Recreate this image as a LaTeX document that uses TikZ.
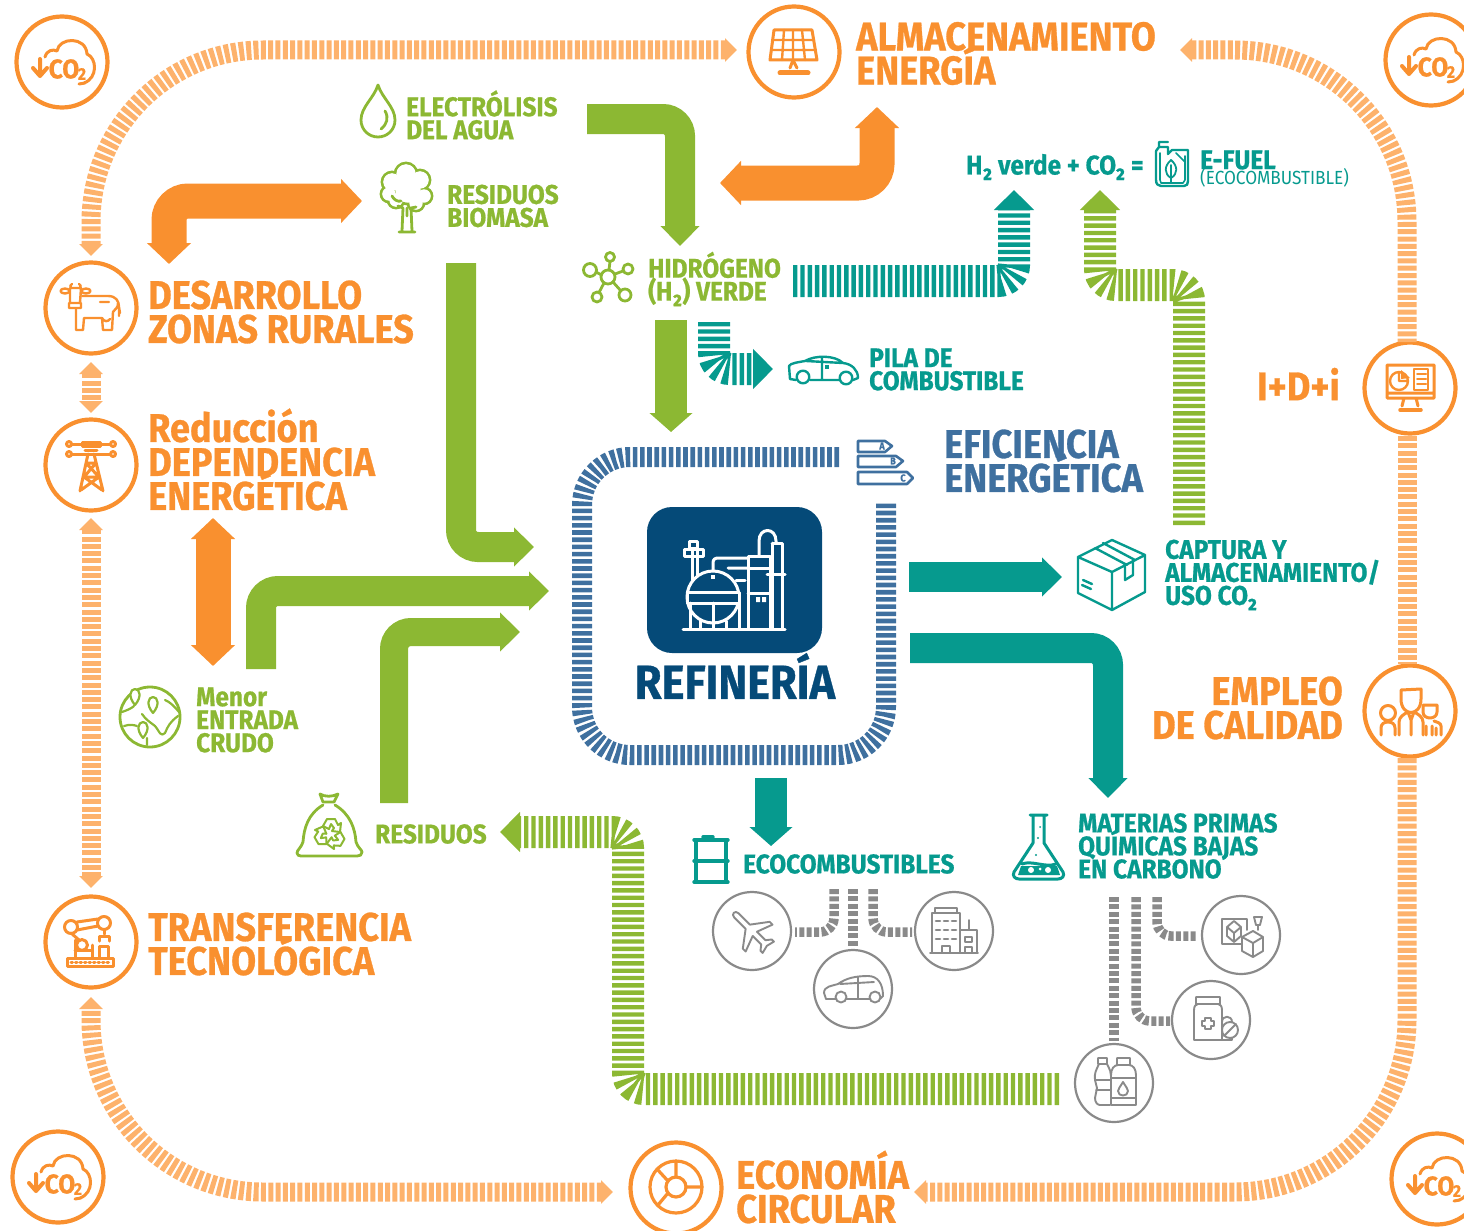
\documentclass[tikz,border=0pt]{standalone}
\usepackage{fontspec}
\setmainfont{Fira Sans}
\newfontfamily\cf[FakeStretch=0.905,BoldFeatures={FakeBold=0.7}]{Fira Sans}
\usetikzlibrary{arrows.meta}
\definecolor{org}{HTML}{F9902F}
\definecolor{pale}{HTML}{FDB26C}
\definecolor{grn}{HTML}{8CB833}
\definecolor{teal1}{HTML}{069A8E}
\definecolor{blu}{HTML}{3F709F}
\definecolor{navy}{HTML}{054A78}
\definecolor{gry}{HTML}{8A8A8A}
\newcommand{\fs}[2]{\fontsize{#1}{#2}\selectfont\lineskiplimit=-100pt\relax}
\tikzset{
 ring/.style={circle,draw=org,line width=4.2pt,minimum size=91pt,inner sep=0pt,fill=white},
 gring/.style={circle,draw=gry,line width=2.2pt,minimum size=78pt,inner sep=0pt,fill=white},
 lab/.style={inner sep=0pt,align=left,anchor=west,font=\cf\bfseries},
 big/.style={lab,text=org,font=\cf\bfseries\fs{40}{34}},
 gsm/.style={lab,text=grn,font=\cf\bfseries\fs{27}{23}},
 tsm/.style={lab,text=teal1,font=\cf\bfseries\fs{27}{23}},
 outerband/.style={draw=pale,line width=19pt,dash pattern=on 5pt off 2.3pt,rounded corners=172pt},
 paleboth/.style={outerband,{Triangle[width=23pt,length=12pt]}-{Triangle[width=23pt,length=12pt]}},
 stripe/.style={line width=32pt,dash pattern=on 4.4pt off 2.9pt,rounded corners=16pt,-{Triangle[width=39pt,length=20pt]}},
 solid1/.style={line width=30pt,rounded corners=17pt,-{Triangle[width=38pt,length=20pt]}},
 solid2/.style={line width=35pt,rounded corners=19pt,{Triangle[width=43pt,length=21pt]}-{Triangle[width=43pt,length=21pt]}},
 frameband/.style={draw=blu,line width=20pt,dash pattern=on 4.6pt off 2.6pt,rounded corners=48pt},
 gband/.style={draw=gry,line width=9.5pt,dash pattern=on 5pt off 2.4pt,rounded corners=14pt},
 oi/.style={draw=org,line width=3pt,line cap=round,line join=round},
 gi/.style={draw=grn,line width=2.8pt,line cap=round,line join=round},
 ti/.style={draw=teal1,line width=2.4pt,line cap=round,line join=round},
 bi/.style={draw=blu,line width=2.6pt,line cap=round,line join=round},
 ni/.style={draw=gry,line width=1.9pt,line cap=round,line join=round},
 wi/.style={draw=white,line width=3pt,line cap=round,line join=round},
 cotwo/.pic={
  \draw[oi] (-17,-5) .. controls (-15,-12) and (-9,-13) .. (-5,-11) .. controls (-3,-25) and (24,-26) .. (25,-8) .. controls (35,-4) and (36,16) .. (22,21) (17,22) -- (23,21);
  \draw[oi,line width=4pt] (-22,-3) -- (-22,12) (-29,6) -- (-22,14) -- (-15,6);
  \node[inner sep=0pt,text=org,font=\cf\bfseries\fs{27}{27}] at (2,7) {CO};
  \node[inner sep=0pt,text=org,font=\cf\bfseries\fs{17}{17}] at (20,12) {2};
 }
}
\begin{document}
\begin{tikzpicture}[x=1pt,y=-1pt]
\useasboundingbox (0,0) rectangle (1464,1231);
% ---------- named rings
\node[ring] (co2a) at (62,62) {};
\node[ring] (co2b) at (1431,60) {};
\node[ring] (co2c) at (58,1177) {};
\node[ring] (co2d) at (1437,1179) {};
\node[ring] (alm) at (794,52) {};
\node[ring] (eco) at (676,1188) {};
\node[ring] (des) at (91,308) {};
\node[ring] (red) at (91,465) {};
\node[ring] (tra) at (91,942) {};
\node[ring] (idi) at (1410,388) {};
\node[ring] (emp) at (1410,711) {};
\pic at (co2a) {cotwo};
\pic at (co2b) {cotwo};
\pic at (co2c) {cotwo};
\pic at (co2d) {cotwo};
% ---------- outer bands
\coordinate (t1) at (737,50);
\coordinate (t1c) at (91,50);
\coordinate (t2) at (91,256);
\coordinate (t3) at (1180,50);
\coordinate (t3c) at (1407,50);
\coordinate (b1) at (613,1192);
\coordinate (b1c) at (91,1192);
\coordinate (b2) at (91,997);
\coordinate (b3) at (914,1192);
\coordinate (b3c) at (1407,1192);
\draw[paleboth] (t1) -- (t1c) -- (t2);
\draw[outerband,{Triangle[width=23pt,length=12pt]}-] (t3) -- (t3c) -- (1407,342);
\draw[outerband] (1407,436) -- (1407,664);
\draw[outerband,-{Triangle[width=23pt,length=12pt]}] (1407,758) -- (b3c) -- (b3);
\draw[paleboth] (b1) -- (b1c) -- (b2);
\coordinate (l1) at (91,362); \coordinate (l2) at (91,413);
\draw[paleboth] (l1) -- (l2);
\coordinate (l3) at (91,518); \coordinate (l4) at (91,888);
\draw[paleboth] (l3) -- (l4);
% ---------- solid arrows
\coordinate (oa1) at (362,201); \coordinate (oa1c) at (169,201); \coordinate (oa2) at (169,264);
\draw[solid2,draw=org] (oa1) -- (oa1c) -- (oa2);
\coordinate (ob1) at (720,183); \coordinate (ob1c) at (877,183); \coordinate (ob2) at (877,107);
\draw[solid2,draw=org] (ob1) -- (ob1c) -- (ob2);
\coordinate (oc1) at (213,518); \coordinate (oc2) at (213,666);
\draw[solid2,draw=org] (oc1) -- (oc2);
\coordinate (g1) at (587,119); \coordinate (g1c) at (680,119); \coordinate (g1e) at (680,246);
\draw[solid1,draw=grn] (g1) -- (g1c) -- (g1e);
\coordinate (g2) at (461,263); \coordinate (g2c) at (461,547); \coordinate (g2e) at (534,547);
\draw[solid1,draw=grn] (g2) -- (g2c) -- (g2e);
\coordinate (g3) at (261,669); \coordinate (g3c) at (261,591); \coordinate (g3e) at (549,591);
\draw[solid1,draw=grn] (g3) -- (g3c) -- (g3e);
\coordinate (g4) at (394,803); \coordinate (g4c) at (394,632); \coordinate (g4e) at (520,632);
\draw[solid1,line width=28pt,draw=grn] (g4) -- (g4c) -- (g4e);
\coordinate (g5) at (671,320); \coordinate (g5e) at (671,432);
\draw[solid1,line width=32pt,draw=grn,-{Triangle[width=42pt,length=19pt]}] (g5) -- (g5e);
\coordinate (t5) at (909,577); \coordinate (t5e) at (1062,577);
\draw[solid1,draw=teal1] (t5) -- (t5e);
\coordinate (t6) at (910,648); \coordinate (t6c) at (1108,648); \coordinate (t6e) at (1108,798);
\draw[solid1,draw=teal1] (t6) -- (t6c) -- (t6e);
\coordinate (t7) at (771,778); \coordinate (t7e) at (771,846);
\draw[solid1,line width=32pt,draw=teal1,-{Triangle[width=42pt,length=19pt]}] (t7) -- (t7e);
% ---------- striped arrows
\coordinate (s1) at (793,281); \coordinate (s1c) at (1014,281); \coordinate (s1e) at (1014,190);
\draw[stripe,draw=teal1] (s1) -- (s1c) -- (s1e);
\coordinate (s2) at (1189,525); \coordinate (s2c) at (1189,285); \coordinate (s2d) at (1100,285); \coordinate (s2e) at (1100,190);
\draw[stripe,draw=grn] (s2) -- (s2c) -- (s2d) -- (s2e);
\coordinate (s3) at (714,322); \coordinate (s3c) at (714,369); \coordinate (s3e) at (773,369);
\draw[stripe,draw=teal1] (s3) -- (s3c) -- (s3e);
\coordinate (s4) at (1059,1089); \coordinate (s4c) at (628,1089); \coordinate (s4d) at (628,832); \coordinate (s4e) at (500,832);
\draw[stripe,draw=grn] (s4) -- (s4c) -- (s4d) -- (s4e);
% ---------- refinery frame
\coordinate (f1) at (839,457); \coordinate (f2) at (582,457); \coordinate (f3) at (582,755); \coordinate (f4) at (886,755); \coordinate (f5) at (886,503);
\draw[frameband] (f1) -- (f2) -- (f3) -- (f4) -- (f5);
\node[fill=navy,rounded corners=25pt,minimum width=175pt,minimum height=146pt,inner sep=0pt] (ref) at (734.5,580) {};
% refinery icon
\draw[wi] (683,629) -- (785,629);
\draw[wi] (713,597) circle[radius=26];
\draw[wi,fill=navy] (687,592) rectangle (739,603);
\draw[wi] (690,603) -- (690,629) (700,620) -- (700,629) (713,603) -- (713,629) (726,621) -- (726,629) (739,603) -- (739,629);
\fill[white] (711,575) rectangle (715,579);
\draw[wi] (692,580) -- (692,548) -- (697,548) -- (697,575) (689,541) -- (697,541) -- (697,548) -- (689,548) -- cycle (684,549) rectangle (703,556);
\draw[wi] (713,570) -- (713,563) .. controls (713,559) and (715,558) .. (719,558) -- (748,558) (728,568) -- (748,568);
\draw[wi] (748,629) -- (748,556) -- (770,556) -- (770,629) (748,568) -- (770,568) (748,593) -- (770,593) (736,580) -- (745,580);
\draw[wi] (759,556) -- (759,541) .. controls (759,527) and (776,527) .. (776,541) -- (776,543);
\draw[wi] (772,543) -- (782,543) -- (782,629) (772,543) -- (772,629) (767,574) -- (785,574);
\fill[white] (756,597) rectangle (760,602) (762,597) rectangle (766,602);
\node[inner sep=0pt,text=navy,font=\cf\bfseries\fs{48}{48}] (reft) at (735,676) {REFINERÍA};
% ---------- grey branches
\coordinate (e0) at (853,889); \coordinate (e1) at (853,948);
\draw[gband] (e0) -- (e1);
\coordinate (e2) at (834,889); \coordinate (e2c) at (834,932); \coordinate (e2e) at (795,932);
\draw[gband] (e2) -- (e2c) -- (e2e);
\coordinate (e3) at (873,889); \coordinate (e3c) at (873,932); \coordinate (e3e) at (912,932);
\draw[gband] (e3) -- (e3c) -- (e3e);
\coordinate (m0) at (1114,897); \coordinate (m1) at (1114,1041);
\draw[gband] (m0) -- (m1);
\coordinate (m2) at (1136,897); \coordinate (m2c) at (1136,1021); \coordinate (m2e) at (1170,1021);
\draw[gband] (m2) -- (m2c) -- (m2e);
\coordinate (m3) at (1157,897); \coordinate (m3c) at (1157,936); \coordinate (m3e) at (1198,936);
\draw[gband] (m3) -- (m3c) -- (m3e);
\node[gring] (c1) at (752,931) {};
\node[gring] (c2) at (853,989) {};
\node[gring] (c3) at (954,931) {};
\node[gring] (c4) at (1241,935) {};
\node[gring] (c5) at (1211,1020) {};
\node[gring] (c6) at (1114,1083) {};
% plane
\begin{scope}[shift={(752,931)},rotate=45]
\draw[ni] (-3,-22) .. controls (-3,-27) and (3,-27) .. (3,-22) -- (3,-6) -- (19,6) -- (19,10) -- (3,4) -- (3,16) -- (8,20) -- (8,23) -- (0,21) -- (-8,23) -- (-8,20) -- (-3,16) -- (-3,4) -- (-19,10) -- (-19,6) -- (-3,-6) -- cycle;
\end{scope}
% car grey
\draw[ni] (824,993) .. controls (824,986) and (832,986) .. (838,984) .. controls (846,978) and (856,976) .. (868,976) .. controls (878,976) and (883,984) .. (883,996) -- (880,999) (870,999) -- (846,999) (836,999) -- (826,999) -- (824,993) (840,984) -- (874,982) (858,977) -- (858,998);
\draw[ni] (841,997) circle[radius=5.5] (875,997) circle[radius=5.5];
% building
\draw[ni] (932,953) -- (932,913) -- (960,913) -- (960,953) (935,913) -- (935,908) -- (957,908) -- (957,913) (930,953) -- (978,953) (960,930) -- (977,930) -- (977,953);
\draw[ni,line width=2.6pt,dash pattern=on 4pt off 4pt] (936,921) -- (957,921) (936,930) -- (957,930) (936,939) -- (957,939);
\draw[ni] (942,953) -- (942,946) -- (950,946) -- (950,953) (965,937) rectangle (972,942) (965,947) -- (965,953) -- (972,953) -- (972,947) -- cycle (969,930) -- (969,920);
% cube icon
\draw[ni] (1241,944) -- (1222,944) -- (1222,919) -- (1247,919) -- (1247,930);
\draw[ni] (1234,921) -- (1241,927) -- (1241,936) -- (1234,942) -- (1227,936) -- (1227,927) -- cycle (1227,927) -- (1234,933) -- (1241,927) (1234,933) -- (1234,942);
\draw[ni] (1253,931) -- (1263,937) -- (1263,951) -- (1253,957) -- (1242,951) -- (1242,937) -- cycle (1242,937) -- (1253,943) -- (1263,937) (1253,943) -- (1253,957);
\draw[ni] (1254,917) -- (1262,917) -- (1260,925) -- (1256,925) -- cycle (1258,925) -- (1258,930);
% medicine
\draw[ni] (1196,1004) rectangle (1220,997) (1194,1040) -- (1194,1010) .. controls (1194,1006) and (1196,1004) .. (1198,1004) -- (1218,1004) .. controls (1220,1004) and (1222,1006) .. (1222,1010) -- (1222,1040) -- cycle;
\draw[ni] (1205,1018) -- (1211,1018) -- (1211,1021) -- (1214,1021) -- (1214,1026) -- (1211,1026) -- (1211,1029) -- (1205,1029) -- (1205,1026) -- (1202,1026) -- (1202,1021) -- (1205,1021) -- cycle;
\draw[ni,fill=white] (1222,1040) -- (1222,1022) .. controls (1222,1015) and (1232,1015) .. (1232,1022) -- (1232,1040) -- cycle;
\draw[ni,fill=white] (1230,1030) circle[radius=8];
\draw[ni] (1224,1036) -- (1236,1024);
% bottles
\draw[ni] (1098,1058) rectangle (1107,1064) (1099,1064) .. controls (1096,1070) and (1094,1074) .. (1095,1080) -- (1097,1088) -- (1095,1098) .. controls (1095,1103) and (1098,1105) .. (1100,1105) -- (1110,1105) (1107,1064) .. controls (1110,1070) and (1111,1072) .. (1111,1076) (1095,1080) -- (1111,1080) (1096,1090) -- (1111,1090);
\draw[ni,fill=white] (1117,1058) rectangle (1130,1065) (1111,1105) -- (1111,1075) .. controls (1111,1069) and (1114,1065) .. (1118,1065) -- (1129,1065) .. controls (1133,1065) and (1136,1069) .. (1136,1075) -- (1136,1105) -- cycle (1111,1078) -- (1136,1078) (1111,1098) -- (1136,1098);
\draw[ni] (1123,1082) .. controls (1120,1087) and (1118,1089) .. (1118,1091) .. controls (1118,1097) and (1128,1097) .. (1128,1091) .. controls (1128,1089) and (1126,1087) .. (1123,1082) -- cycle;
% ---------- orange icons
% cow
\draw[oi,line width=2.4pt] (65,291) ellipse[x radius=4.5,y radius=2.5] (86,291) ellipse[x radius=4.5,y radius=2.5] (71,288) .. controls (70,286) and (70,285) .. (72,284) (80,288) .. controls (81,286) and (81,285) .. (79,284);
\draw[oi,line width=2.4pt] (70,288) -- (81,288) -- (80,303) -- (70,303) -- cycle (69,303) rectangle (81,308);
\draw[oi,line width=2.4pt] (82,296) -- (108,296) .. controls (116,296) and (119,301) .. (119,307) -- (120,313) (119,306) -- (119,316) (76,309) -- (76,330) -- (83,330) -- (84,318) -- (102,318) -- (103,330) -- (112,330) -- (113,312) .. controls (116,308) and (118,308) .. (118,303) (83,330) -- (84,318) (102,318) .. controls (104,322) and (108,322) .. (110,319) (100,302) -- (109,302);
% tower
\draw[oi] (72,444) -- (110,444) (72,454) -- (110,454) (82,442) rectangle (100,446) (85,450) -- (97,450);
\draw[oi,fill=white] (69,444) circle[radius=2.5] (113,444) circle[radius=2.5] (69,454) circle[radius=2.5] (113,454) circle[radius=2.5];
\draw[oi] (88,454) -- (80,491) (94,454) -- (103,491) (87,463) -- (96,463) -- (84,477) -- (99,477) -- (86,463) (84,477) -- (102,490) (99,477) -- (81,490);
% robot
\draw[oi] (67,958) rectangle (113,966);
\draw[oi,dash pattern=on 1.5pt off 3pt] (71,962) -- (109,962);
\draw[oi] (75,958) -- (75,940) (92,958) -- (92,945) (75,950) -- (92,950) (99,958) -- (99,946) -- (108,946) -- (108,958);
\draw[oi,fill=white] (82,945) circle[radius=5.5] (71,927) circle[radius=6.5] (104,923) circle[radius=6.5];
\draw[oi] (77,922) -- (98,919) (77,930) -- (98,926) (71,933) -- (79,940);
\draw[oi] (104,930) -- (104,934) (99,941) -- (99,936) -- (109,936) -- (109,941);
% chart
\draw[oi,line width=3.2pt] (676,1187) circle[radius=26] (676,1187) circle[radius=10];
\draw[oi,line width=3.2pt] (676,1177) -- (676,1161) (686,1187) -- (702,1187) (668,1193) -- (658,1205) (668,1181) -- (657,1169);
% solar
\draw[oi] (774,30) -- (812,30) -- (817,60) -- (770,60) -- cycle;
\draw[oi,line width=2.4pt] (772,40) -- (814,40) (771,50) -- (816,50) (784,30) -- (782,60) (793,30) -- (793,60) (802,30) -- (805,60);
\draw[oi] (793,60) -- (790,68) (793,60) -- (797,68);
\draw[oi,line width=5pt] (780,73) -- (808,73);
% monitor
\draw[oi] (1387,365) rectangle (1434,398) (1387,393) -- (1434,393) (1404,398) -- (1402,406) (1416,398) -- (1418,406);
\draw[oi,line width=3.5pt] (1400,410) -- (1421,410);
\draw[oi,line width=2.4pt] (1399,381) circle[radius=9] (1399,381) -- (1399,372) (1399,381) -- (1408,381);
\fill[org] (1401,370) -- (1410,378) -- (1401,379) -- cycle;
\draw[oi,line width=2pt] (1414,369) rectangle (1428,390) (1417,374) -- (1426,374) (1417,379) -- (1426,379) (1417,384) -- (1426,384);
% people
\draw[oi] (1401,699) -- (1401,690) -- (1421,689) -- (1421,699) .. controls (1421,717) and (1401,717) .. (1401,699);
\draw[oi] (1399,735) -- (1399,722) .. controls (1399,717) and (1404,714) .. (1408,712) -- (1411,720) -- (1414,712) .. controls (1418,714) and (1423,717) .. (1423,722) -- (1423,735) (1411,720) -- (1411,735);
\draw[oi] (1388,713) circle[radius=7.5] (1381,735) -- (1381,728) .. controls (1381,724) and (1384,722) .. (1388,722) .. controls (1392,722) and (1395,724) .. (1395,728) -- (1395,735);
\draw[oi] (1423,705) -- (1437,705) -- (1437,712) .. controls (1437,720) and (1423,720) .. (1423,712) -- cycle (1426,735) -- (1426,726) (1441,735) -- (1441,726) .. controls (1441,723) and (1437,722) .. (1434,721) (1432,726) -- (1432,735) (1436,728) -- (1436,735);
% ---------- green icons
% drop
\draw[gi] (378,85) .. controls (374,98) and (361,107) .. (361,120) .. controls (361,130) and (369,137) .. (378,137) .. controls (387,137) and (395,130) .. (395,120) .. controls (395,107) and (382,98) .. (378,85) -- cycle (385,111) .. controls (389,118) and (387,124) .. (381,129);
% tree
\foreach \px/\py/\pr in {406/174/11,392/182/10,389/194/8,420/180/10,424/196/8,408/190/14,396/200/8,416/203/8}
  \draw[gi] (\px,\py) circle[radius=\pr];
\foreach \px/\py/\pr in {406/174/11,392/182/10,389/194/8,420/180/10,424/196/8,408/190/14,396/200/8,416/203/8}
  \fill[white] (\px,\py) circle[radius=\pr-1.3];
\draw[gi] (402,231) -- (403,208) -- (398,206) (412,231) -- (411,208) -- (416,207) (399,232) -- (415,232) (392,196) .. controls (394,200) and (398,202) .. (401,201) (407,208) -- (407,216);
% molecule
\draw[gi] (608,277) circle[radius=7] (610,257) circle[radius=4.5] (628,269) circle[radius=5] (625,295) circle[radius=6] (597,297) circle[radius=5] (590,270) circle[radius=6.5];
\draw[gi] (609,270) -- (610,261.5) (615,274) -- (623,271) (613,282) -- (621,291) (604,283) -- (599,292.5) (601.5,275) -- (596,272);
% globe
\draw[gi] (150,717) circle[radius=30];
\draw[gi,line width=2.2pt] (122,712) .. controls (128,710) and (132,708) .. (134,706) (142,714) .. controls (146,720) and (150,722) .. (155,726) .. controls (160,732) and (160,737) .. (165,733) .. controls (168,726) and (170,722) .. (178,716) (165,700) .. controls (170,702) and (174,706) .. (179,712) (124,726) .. controls (130,724) and (134,725) .. (137,726) (147,738) -- (147,745);
\draw[gi,fill=white,line width=2.2pt] (135,705) .. controls (128,697) and (130,689) .. (135,689) .. controls (140,689) and (142,697) .. (135,705) -- cycle (153,713) .. controls (146,705) and (148,697) .. (153,697) .. controls (158,697) and (160,705) .. (153,713) -- cycle (143,738) .. controls (136,730) and (138,722) .. (143,722) .. controls (148,722) and (150,730) .. (143,738) -- cycle;
% bag
\draw[gi] (320,794) .. controls (325,797) and (332,797) .. (338,794) -- (334,802) -- (323,802) -- cycle;
\draw[gi] (323,805) .. controls (308,814) and (304,828) .. (303,842) .. controls (301,848) and (297,850) .. (297,853) .. controls (297,855) and (299,856) .. (301,856) -- (357,856) .. controls (360,856) and (362,855) .. (362,852) .. controls (362,850) and (358,848) .. (356,842) .. controls (355,828) and (350,814) .. (335,805);
\begin{scope}[shift={(330,834)}]
\foreach \a in {0,120,240}
\draw[gi,line width=2pt,rotate=\a] (-7,-8) -- (-3,-15) -- (5,-15) -- (8,-9) -- (11,-11) -- (10,-2) -- (2,-3) -- (4,-6) -- (1,-10) -- (-1,-5) -- cycle;
\end{scope}
% ---------- teal icons
% jerrycan
\draw[ti] (1156,151) -- (1156,180) .. controls (1156,184) and (1158,186) .. (1161,186) -- (1184,186) .. controls (1187,186) and (1188,184) .. (1188,181) -- (1188,150) -- (1172,150) -- (1168,154) -- (1168,147) -- (1159,147) -- (1156,151) (1159,147) -- (1159,142) -- (1168,142);
\draw[ti,line width=1.6pt] (1160,153) -- (1160,180) -- (1161,183) -- (1183,183) -- (1185,180) -- (1185,156) (1176,153) -- (1185,162);
\draw[ti,line width=1.8pt] (1171,160) .. controls (1164,166) and (1164,174) .. (1171,178) .. controls (1178,174) and (1178,166) .. (1171,160) -- cycle (1171,165) -- (1171,182);
% car teal
\draw[ti] (789,366) .. controls (790,363) and (800,362) .. (805,361) .. controls (815,355) and (835,355) .. (843,363) .. controls (852,364) and (858,370) .. (858,378) -- (853,380) (840,380) -- (810,380) (796,380) -- (790,379) -- (789,366) (806,361) -- (843,363) (822,357) -- (822,379);
\draw[ti] (803,377) circle[radius=6.3] (846,378) circle[radius=6.3];
\fill[teal1] (825,365) rectangle (829,369);
% box
\draw[ti] (1112,540) -- (1145,555) -- (1145,592) -- (1112,610) -- (1078,593) -- (1078,557) -- cycle (1078,557) -- (1112,572) -- (1145,555) (1112,572) -- (1112,610) (1095,548) -- (1127,565) (1103,543) -- (1135,560) (1125,567) -- (1125,580) -- (1133,575) -- (1133,561) (1082,585) -- (1091,589) (1083,580) -- (1092,584);
% barrel
\draw[ti,line width=3.4pt] (694,840) -- (728,840) (694,861) -- (728,861) (694,882) -- (728,882) (696,842) -- (696,880) (726,842) -- (726,880) (703,837) -- (713,837);
% flask
\draw[ti,line width=3pt] (1030,815) -- (1047,815) (1033,816) -- (1033,843) -- (1014,872) .. controls (1012,876) and (1015,879) .. (1019,879) -- (1058,879) .. controls (1062,879) and (1065,876) .. (1063,872) -- (1044,843) -- (1044,816) (1022,864) .. controls (1032,860) and (1045,868) .. (1056,864);
\fill[teal1] (1021,866) -- (1057,866) -- (1060,875) -- (1018,875) -- cycle;
\fill[white] (1031,870) circle[radius=3] (1048,870) circle[radius=3] (1040,869) circle[radius=1.5];
\fill[teal1] (1038,838) circle[radius=1.2] (1036,855) circle[radius=1.2] (1040,827) circle[radius=1];
% ---------- blue icon
\draw[bi,line width=2.6pt] (858,441) -- (885,441) -- (892,446) -- (885,452) -- (858,452) -- cycle (858,456) -- (896,456) -- (903,461) -- (896,467) -- (858,467) -- cycle (858,472) -- (907,472) -- (913,478) -- (907,484) -- (858,484) -- cycle;
\node[inner sep=0pt,text=blu,font=\cf\bfseries\fs{10}{10}] at (882,446) {A};
\node[inner sep=0pt,text=blu,font=\cf\bfseries\fs{10}{10}] at (893,461) {B};
\node[inner sep=0pt,text=blu,font=\cf\bfseries\fs{10}{10}] at (903,478) {C};
% ---------- labels
\node[big] (almt) at (856,53.5) {ALMACENAMIENTO\\ENERGÍA};
\node[gsm] (elec) at (406,115) {ELECTRÓLISIS\\DEL AGUA};
\node[gsm] (resb) at (447,206) {RESIDUOS\\BIOMASA};
\node[lab,text=teal1,font=\cf\bfseries\fs{27}{27}] (h2v) at (966,167) {H₂ verde + CO₂ =};
\node[lab,text=teal1,font=\cf\bfseries\fs{27}{27}] (efu) at (1200,160) {E-FUEL};
\node[lab,text=teal1,font=\cf\fs{19}{19}] (efv) at (1200,178) {(ECOCOMBUSTIBLE)};
\node[gsm] (hid) at (648,279) {HIDRÓGENO\\(H₂) VERDE};
\node[big] (dest) at (148,312) {DESARROLLO\\ZONAS RURALES};
\node[tsm] (pila) at (869,369.5) {PILA DE\\COMBUSTIBLE};
\node[big,anchor=east] (idit) at (1340,384) {I+D+i};
\node[big] (redt) at (148,459.5) {Reducción\\DEPENDENCIA\\ENERGÉTICA};
\node[lab,text=blu,font=\cf\bfseries\fs{40}{34}] (efi) at (944,461) {EFICIENCIA\\ENERGÉTICA};
\node[tsm] (cap) at (1165,575) {CAPTURA Y\\ALMACENAMIENTO/\\USO CO₂};
\node[gsm] (men) at (196,720) {Menor\\ENTRADA\\CRUDO};
\node[big,align=right,anchor=east] (empt) at (1343,708) {EMPLEO\\DE CALIDAD};
\node[gsm] (rest) at (375,834) {RESIDUOS};
\node[tsm] (ecot) at (743,864) {ECOCOMBUSTIBLES};
\node[tsm] (mat) at (1078,846) {MATERIAS PRIMAS\\QUÍMICAS BAJAS\\EN CARBONO};
\node[big] (trat) at (148,944) {TRANSFERENCIA\\TECNOLÓGICA};
\node[big] (ecop) at (736,1187) {ECONOMÍA\\CIRCULAR};
\end{tikzpicture}
\end{document}
